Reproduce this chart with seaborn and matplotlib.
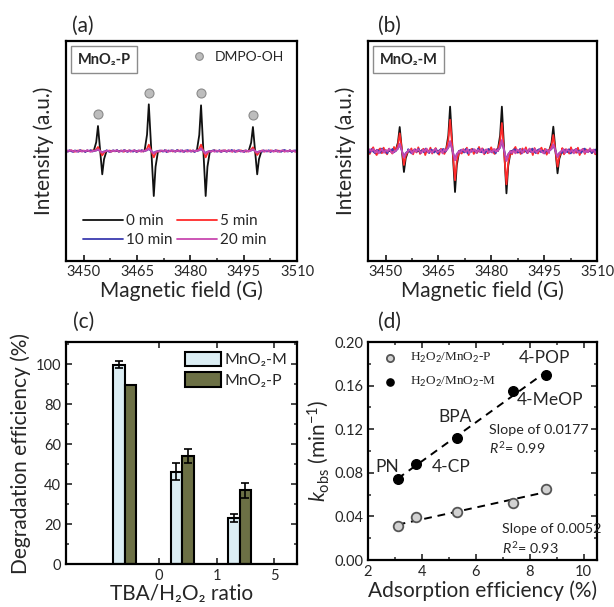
import numpy as np
import pandas as pd
import matplotlib
matplotlib.use("Agg")
import matplotlib.pyplot as plt
import seaborn as sns
from matplotlib.lines import Line2D
from matplotlib.ticker import MultipleLocator

sns.set_theme(style="white")
plt.rcParams['font.family'] = ['Lato', 'DejaVu Sans']
plt.rcParams['mathtext.fontset'] = 'custom'
plt.rcParams['mathtext.rm'] = 'Lato'
plt.rcParams['mathtext.it'] = 'Lato:italic'
plt.rcParams['mathtext.bf'] = 'Lato:bold'
plt.rcParams['axes.edgecolor'] = 'black'
plt.rcParams['axes.linewidth'] = 1.5

# ---------------- EPR data (a), (b) ----------------
times = ["0 min", "5 min", "10 min", "20 min"]
time_colors = ["#111111", "#FF2A2A", "#3B3BB0", "#C848B0"]
peak_up_pos = [3454.0, 3468.3, 3483.0, 3497.6]
peak_dn_pos = [3455.2, 3469.7, 3484.3, 3498.8]

a_up_0 = [0.75, 1.40, 1.37, 0.72]
a_dn_0 = [0.70, 1.35, 1.35, 0.70]
a_up_5 = [0.12, 0.19, 0.19, 0.11]
a_dn_5 = [0.13, 0.19, 0.19, 0.12]
a_up_10 = [0.04, 0.06, 0.06, 0.04]
a_dn_10 = [0.04, 0.06, 0.06, 0.04]
a_up_20 = [0.05, 0.08, 0.08, 0.05]
a_dn_20 = [0.05, 0.08, 0.08, 0.05]

b_up_0 = [0.72, 1.33, 1.33, 0.73]
b_dn_0 = [0.63, 1.23, 1.27, 0.67]
b_up_5 = [0.53, 0.94, 0.84, 0.48]
b_dn_5 = [0.42, 0.88, 1.00, 0.47]
b_up_10 = [0.20, 0.28, 0.30, 0.18]
b_dn_10 = [0.18, 0.27, 0.28, 0.17]
b_up_20 = [0.22, 0.30, 0.33, 0.20]
b_dn_20 = [0.20, 0.28, 0.30, 0.18]

# baseline noise (hundredths of a unit), 3445 -> 3510 G
noise_red = [5,-8,3,10,-4,-11,2,7,-6,9,-3,-9,6,1,-7,11,-2,4,-10,8,-5,3,12,-6,-1,7,-9,5,-4,10,-8,2,6,-11,4,-3,9,-7,1,8,-5,-10,6,3,-8,11,-2,-6,7,4,-9,2,10,-4,-7,5,-1,9,-11,3,6,-8,2,-5,11,-3,7,-9,4,-6,1,10,-2,-8,5,8,-10,3,-4,9,-7,6,-1,-9,4,11,-5,2,-8,7,-3,10,-6,1,5,-11,8,-2,-7,3,9,-4,6,-10,2,7,-8,4,-1,11,-6,-3,8,-9,5,2,-7,10,-4,3,-5,9,-11,1,6,-8,4,-2,7,-6,3,-9,5]
noise_blue = [3,-5,6,-2,-7,4,1,-6,8,-3,2,-8,5,-1,7,-4,-6,3,8,-5,2,-7,4,6,-3,-8,1,5,-2,7,-6,3,-4,8,-1,-7,5,2,-5,6,-8,4,-2,7,-3,1,-6,5,8,-4,-1,6,-7,3,2,-5,7,-8,4,-3,6,1,-6,8,-2,-4,5,-7,3,7,-1,-5,4,-8,6,2,-3,5,-6,8,-4,1,-7,3,6,-2,-5,7,-8,4,2,-6,5,-3,8,-1,-7,3,6,-4,1,-8,5,-2,7,-5,4,-6,2,8,-3,-7,5,1,-4,6,-8,3,-1,7,-5,2,-6,4,8,-2,-3,6,-7,1,5,-4]
noise_purple = [-4,6,-1,7,-5,3,-8,2,5,-6,4,-2,8,-3,-7,1,6,-4,3,-6,7,-1,-5,4,2,-8,5,-3,6,1,-7,4,-2,8,-5,3,-6,2,7,-4,-1,5,-8,6,-3,4,1,-7,3,-5,8,-2,-6,5,2,-4,7,-8,3,-1,6,-5,4,-3,8,-7,2,5,-6,1,-4,7,-2,3,-8,6,-5,4,1,-3,7,-6,2,-8,5,-1,4,-7,6,3,-5,8,-2,-4,7,-6,1,5,-3,-8,4,2,-7,6,-1,3,-5,8,-4,-2,6,-7,5,1,-3,4,-8,7,-2,-5,3,6,-6,2,-4,8,-1,5,-7,3]

dmpo_y = [1.12, 1.73, 1.73, 1.08]

# ---------------- (c) data ----------------
tba_ratio = ["0", "1", "5"]
eff_M = [99.6, 46.1, 22.9]
err_M = [1.7, 4.3, 2.1]
eff_P = [89.5, 53.9, 36.8]
err_P = [0.0, 3.6, 3.6]
cat_names = ["MnO\u2082-M", "MnO\u2082-P"]

# ---------------- (d) data ----------------
ads_eff = [3.1, 3.8, 5.3, 7.4, 8.6]
k_P = [0.031, 0.039, 0.044, 0.052, 0.065]
k_M = [0.074, 0.088, 0.112, 0.155, 0.170]
compounds = ["PN", "4-CP", "BPA", "4-MeOP", "4-POP"]

LABEL_FS = 15
TICK_FS = 10.5


def build_curve(up, dn, noise, scale):
    if noise is None:
        gx = np.array([3445.0, 3510.0])
        gy = np.zeros(2)
    else:
        gx = np.linspace(3445, 3510, len(noise))
        gy = np.array(noise, dtype=float) * scale
    keep = np.ones(len(gx), bool)
    for xp, xn in zip(peak_up_pos, peak_dn_pos):
        keep &= ~((gx > xp - 1.2) & (gx < xn + 1.2))
    xs = list(gx[keep]); ys = list(gy[keep])
    for xp, xn, u, d in zip(peak_up_pos, peak_dn_pos, up, dn):
        xs += [xp - 1.2, xp - 0.5, xp, xn, xn + 0.5, xn + 1.2]
        ys += [0.0, 0.35 * u, u, -d, -0.35 * d, 0.0]
    order = np.argsort(xs)
    return np.array(xs)[order], np.array(ys)[order]


fig = plt.figure(figsize=(6.14, 6.07), dpi=100)
axa = fig.add_axes([66/614, 1-261/607, 231/614, 220/607])
axb = fig.add_axes([368/614, 1-261/607, 229/614, 220/607])
axc = fig.add_axes([66/614, 1-564/607, 231/614, 222/607])
axd = fig.add_axes([368/614, 1-560/607, 229/614, 218/607])

a_sets = [(a_up_0, a_dn_0, None, 0), (a_up_5, a_dn_5, noise_red, 0.002),
          (a_up_10, a_dn_10, noise_blue, 0.004), (a_up_20, a_dn_20, noise_purple, 0.003)]
b_sets = [(b_up_0, b_dn_0, None, 0), (b_up_5, b_dn_5, noise_red, 0.011),
          (b_up_10, b_dn_10, noise_blue, 0.009), (b_up_20, b_dn_20, noise_purple, 0.009)]

for ax, sets in ((axa, a_sets), (axb, b_sets)):
    for (up, dn, nz, sc), lab, col in zip(sets, times, time_colors):
        x, y = build_curve(up, dn, nz, sc)
        sns.lineplot(x=x, y=y, ax=ax, color=col, lw=1.3, label=lab, sort=False)
    ax.set_xlim(3445, 3510)
    ax.set_ylim(-3.3, 3.3)
    ax.set_yticks([])
    ax.set_xticks([3450, 3465, 3480, 3495, 3510])
    ax.xaxis.set_minor_locator(MultipleLocator(7.5))
    ax.tick_params(axis='x', which='major', direction='in', length=4, width=1.3,
                   labelsize=TICK_FS, pad=3, bottom=True)
    ax.tick_params(axis='x', which='minor', direction='in', length=2.5, width=1.1, bottom=True)
    ax.set_xlabel("Magnetic field (G)", fontsize=LABEL_FS, labelpad=1)
    ax.set_ylabel("Intensity (a.u.)", fontsize=LABEL_FS, labelpad=9)
    for s in ax.spines.values():
        s.set_linewidth(1.6)

# DMPO-OH markers in (a)
sns.scatterplot(x=peak_up_pos, y=dmpo_y, ax=axa, s=42, color="#BDBDBD",
                edgecolor="#8A8A8A", linewidth=0.8, zorder=5, legend=False)
h, l = axa.get_legend_handles_labels()
order = [0, 2, 1, 3]
leg_a = axa.legend([h[i] for i in order], [l[i] for i in order], loc='lower left',
                   ncol=2, frameon=False, fontsize=11, handlelength=2.6,
                   handletextpad=0.2, columnspacing=0.3, labelspacing=0.35,
                   bbox_to_anchor=(0.015, 0.0))
axa.add_artist(leg_a)
dm_handle = Line2D([], [], ls='none', marker='o', ms=5.5, mfc="#BDBDBD", mec="#8A8A8A", mew=0.8)
axa.legend([dm_handle], ["DMPO-OH"], loc='upper right', frameon=False, fontsize=10,
           handletextpad=0.2, bbox_to_anchor=(1.0, 1.01))
axb.get_legend().remove()

box = dict(boxstyle='square,pad=0.45', fc='white', ec='#8C8C8C', lw=1.0)
axa.text(0.05, 0.915, "MnO\u2082-P", transform=axa.transAxes, fontsize=10.5,
         fontweight='bold', va='center', ha='left', bbox=box)
axb.text(0.05, 0.915, "MnO\u2082-M", transform=axb.transAxes, fontsize=10.5,
         fontweight='bold', va='center', ha='left', bbox=box)

# ---------------- (c) ----------------
df_c = pd.DataFrame({
    "ratio": tba_ratio * 2,
    "cat": [cat_names[0]] * 3 + [cat_names[1]] * 3,
    "eff": eff_M + eff_P,
})
sns.barplot(data=df_c, x="ratio", y="eff", hue="cat", order=tba_ratio,
            hue_order=cat_names, palette=["#DCEEF4", "#6C7045"], width=0.4,
            saturation=1, edgecolor="black", linewidth=1.5, errorbar=None, ax=axc)
for cont, errs in zip(axc.containers, (err_M, err_P)):
    xs = [b.get_x() + b.get_width() / 2 for b in cont]
    hs = [b.get_height() for b in cont]
    axc.errorbar(xs, hs, yerr=errs, fmt='none', ecolor='black', elinewidth=1.2,
                 capsize=3, capthick=1.2, zorder=5)
axc.set_xlim(-1.02, 3.0)
axc.set_ylim(0, 111)
axc.set_xticks([0.6, 1.6, 2.6])
axc.set_xticklabels(tba_ratio)
axc.set_yticks([0, 20, 40, 60, 80, 100])
axc.yaxis.set_minor_locator(MultipleLocator(10))
axc.tick_params(axis='both', which='major', direction='in', length=4, width=1.2,
                labelsize=TICK_FS, top=True, right=True, left=True, bottom=True)
axc.tick_params(axis='y', which='minor', direction='in', length=2.5, width=1.1,
                left=True, right=True)
axc.set_xlabel("TBA/H\u2082O\u2082 ratio", fontsize=LABEL_FS, labelpad=1)
axc.set_ylabel("Degradation efficiency (%)", fontsize=LABEL_FS, labelpad=3)
axc.legend(loc='upper right', frameon=False, fontsize=11.5, handlelength=2.2,
           handleheight=1.05, handletextpad=0.25, labelspacing=0.3,
           borderaxespad=0.2)
for s in axc.spines.values():
    s.set_linewidth(1.6)

# ---------------- (d) ----------------
sns.regplot(x=ads_eff, y=k_M, ax=axd, scatter=False, ci=None, truncate=True,
            line_kws=dict(color='black', lw=1.4, ls=(0, (4, 3))))
sns.regplot(x=ads_eff, y=k_P, ax=axd, scatter=False, ci=None, truncate=True,
            line_kws=dict(color='black', lw=1.4, ls=(0, (4, 3))))
sns.scatterplot(x=ads_eff, y=k_P, ax=axd, s=48, color="#D2D2D2", edgecolor="#555555",
                linewidth=1.3, zorder=5, label=r"H$_2$O$_2$/MnO$_2$-P")
sns.scatterplot(x=ads_eff, y=k_M, ax=axd, s=48, color="black", edgecolor="black",
                linewidth=1.0, zorder=5, label=r"H$_2$O$_2$/MnO$_2$-M")
axd.legend(loc='upper left', frameon=False, handletextpad=0.5, labelspacing=0.75,
           borderaxespad=0.3, markerscale=0.75,
           prop=dict(family=['Liberation Serif', 'DejaVu Serif'], size=9.5))

label_xy = [(2.71, 0.085), (5.09, 0.085), (5.22, 0.131), (8.75, 0.1466), (8.56, 0.185)]
for name, (tx, ty) in zip(compounds, label_xy):
    axd.text(tx, ty, name, fontsize=12.5, ha='center', va='center')
axd.text(6.5, 0.119, "Slope of 0.0177", fontsize=10.3, va='center', ha='left')
axd.text(6.5, 0.1026, "$R^2$= 0.99", fontsize=10.3, va='center', ha='left')
axd.text(6.96, 0.0284, "Slope of 0.0052", fontsize=10.3, va='center', ha='left')
axd.text(6.96, 0.011, "$R^2$= 0.93", fontsize=10.3, va='center', ha='left')

axd.set_xlim(2, 10.5)
axd.set_ylim(0, 0.20)
axd.set_xticks([2, 4, 6, 8, 10])
axd.set_yticks([0.0, 0.04, 0.08, 0.12, 0.16, 0.20])
axd.yaxis.set_major_formatter(matplotlib.ticker.FormatStrFormatter('%.2f'))
axd.xaxis.set_minor_locator(MultipleLocator(1))
axd.yaxis.set_minor_locator(MultipleLocator(0.02))
axd.tick_params(axis='both', which='major', direction='in', length=4, width=1.2,
                labelsize=TICK_FS, top=True, right=True, left=True, bottom=True)
axd.tick_params(axis='both', which='minor', direction='in', length=2.5, width=1.1,
                top=True, right=True, left=True, bottom=True)
axd.set_xlabel("Adsorption efficiency (%)", fontsize=LABEL_FS, labelpad=1)
axd.set_ylabel(r"$k_{\mathrm{obs}}$ (min$^{-1}$)", fontsize=LABEL_FS, labelpad=2)
for s in axd.spines.values():
    s.set_linewidth(1.6)

# panel labels
for lab, px, py in (("(a)", 72, 16), ("(b)", 378, 16), ("(c)", 73, 312), ("(d)", 378, 312)):
    fig.text(px / 614, 1 - py / 607, lab, fontsize=15, ha='left', va='top')

fig.savefig("out.png", dpi=100)
